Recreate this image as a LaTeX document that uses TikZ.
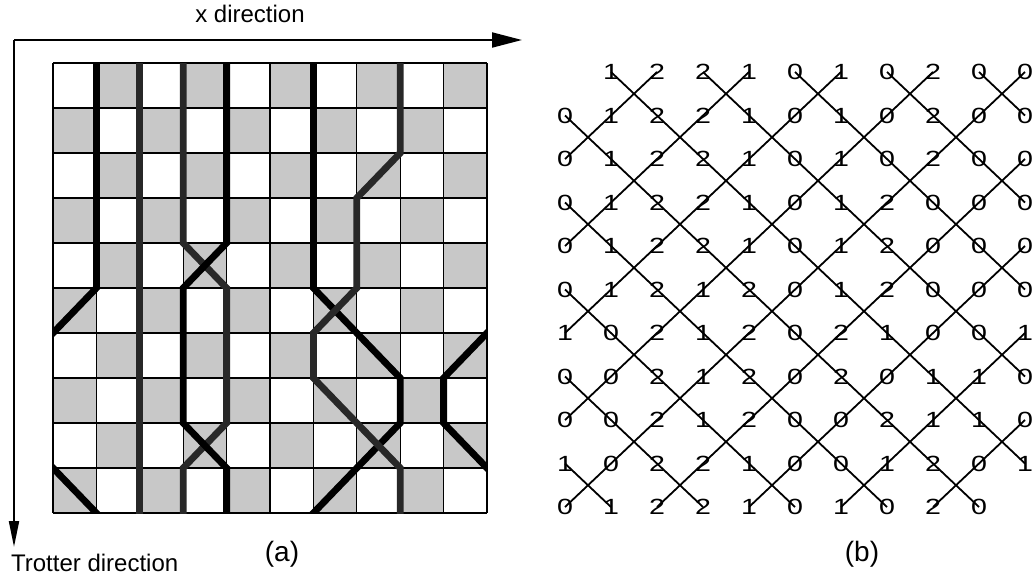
\documentclass[tikz,border=0pt]{standalone}
\usepackage{fontspec}
\setmainfont{Liberation Sans}
\newfontfamily\chiffres[FakeStretch=1.3]{Liberation Sans}
\usepackage{tikz}
\usetikzlibrary{arrows.meta}
\definecolor{grisc}{RGB}{200,200,200}
\definecolor{grisf}{RGB}{40,40,40}

\begin{document}
\begin{tikzpicture}[x=0.5pt, y=-0.5pt,
  axe/.style={line width=1pt, -{Triangle[length=15pt, width=7.5pt]}},
  case/.style={fill=grisc},
  lu/.style={line width=3.4pt, black},
  lug/.style={line width=3.4pt, grisf},
  diag/.style={line width=0.9pt},
  chiffre/.style={font=\chiffres\fontsize{11}{13}\selectfont, inner sep=0pt},
  titre/.style={font=\fontsize{12}{14}\selectfont}]

\useasboundingbox (0,0) rectangle (1034,579);

% axes
\coordinate (o) at (14,40);
\coordinate (xfin) at (522,40);
\coordinate (tfin) at (14,547);
\draw[axe] (o) -- (xfin);
\draw[axe, -{Triangle[length=13pt, width=5pt]}] (o) -- (tfin);
\node[titre] (xdir) at (250,14) {x direction};
\node[titre, anchor=west] (tdir) at (4,563) {Trotter direction};
\node[font=\fontsize{14}{16}\selectfont] (laba) at (282,554) {(a)};
\node[font=\fontsize{14}{16}\selectfont] (labb) at (862,554) {(b)};

% (a) damier et lignes d'univers
\begin{scope}[shift={(53,63)}, x=21.7pt, y=-22.5pt]
  \foreach \i in {0,...,9} {
    \foreach \j in {0,...,9} {
      \pgfmathtruncatemacro\p{\i+\j}
      \ifodd\p \fill[case] (\i,\j) rectangle ++(1,1); \fi
    }
  }
  \foreach \k in {0,...,10} {
    \draw[line width=0.6pt] (\k,0) -- (\k,10);
    \draw[line width=0.6pt] (0,\k) -- (10,\k);
  }
  \begin{scope}
    \clip (0,0) rectangle (10,10);
    \draw[lu] (1,-0.2) -- (1,5) -- (-0.5,6.5);
    \draw[lu] (10.5,5.5) -- (9,7) -- (9,8) -- (10.5,9.5);
    \draw[lu] (-0.5,8.5) -- (1.3,10.3);
    \draw[lug] (2,-0.2) -- (2,10.2);
    \draw[lug] (3,-0.2) -- (3,4) -- (4,5) -- (4,8) -- (3,9) -- (3,10.2);
    \draw[lu] (4,-0.2) -- (4,4) -- (3,5) -- (3,8) -- (4,9) -- (4,10.2);
    \draw[lu] (6,-0.2) -- (6,5) -- (8,7) -- (8,8) -- (5.7,10.3);
    \draw[lug] (8,-0.2) -- (8,2) -- (7,3) -- (7,5) -- (6,6) -- (6,7) -- (8,9) -- (8,10.2);
  \end{scope}
\end{scope}

% (b) reseau de chiffres
\begin{scope}[shift={(565,72)}, x=23pt, y=-21.75pt]
  \foreach \k in {-9,-7,...,9}
    \draw[diag] ({max(\k,0)},{max(-\k,0)}) -- ({min(10,10+\k)},{min(10,10-\k)});
  \foreach \s in {2,4,...,18}
    \draw[diag] ({min(\s,10)},{\s-min(\s,10)}) -- ({\s-min(\s,10)},{min(\s,10)});
  \foreach \ligne [count=\r from 0] in {
      {n,1,2,2,1,0,1,0,2,0,0},
      {0,1,2,2,1,0,1,0,2,0,0},
      {0,1,2,2,1,0,1,0,2,0,0},
      {0,1,2,2,1,0,1,2,0,0,0},
      {0,1,2,2,1,0,1,2,0,0,0},
      {0,1,2,1,2,0,1,2,0,0,0},
      {1,0,2,1,2,0,2,1,0,0,1},
      {0,0,2,1,2,0,2,0,1,1,0},
      {0,0,2,1,2,0,0,2,1,1,0},
      {1,0,2,2,1,0,0,1,2,0,1},
      {0,1,2,2,1,0,1,0,2,0,n}} {
    \foreach \d [count=\c from 0] in \ligne {
      \if n\d\else \node[chiffre] (n-\r-\c) at (\c,\r) {\d}; \fi
    }
  }
\end{scope}

\end{tikzpicture}
\end{document}
